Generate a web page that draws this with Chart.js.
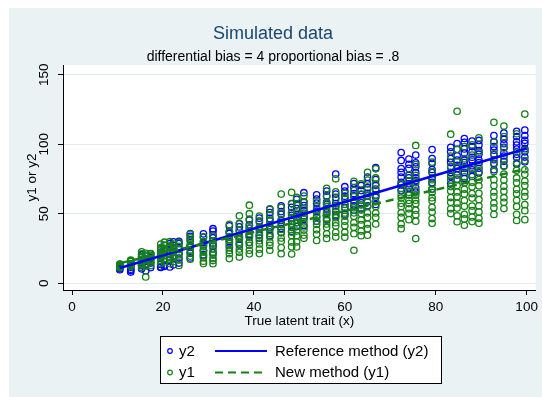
<!DOCTYPE html>
<html><head><meta charset="utf-8">
<script src="https://cdn.jsdelivr.net/npm/chart.js@4/dist/chart.umd.min.js"></script>
<style>html,body{margin:0;padding:0;background:#fff}canvas{display:block}</style>
</head><body>
<canvas id="c" width="542" height="397"></canvas>
<script>
// x positions of the measurement columns (true latent trait)
const xCols = [10.5,12.9,15.3,16.2,17.3,19.5,20.3,21.5,22.3,23.5,26,28.9,31,34.6,36.8,39,41.2,43.5,46,48.3,49.4,51,53.8,56,58,60,62,63.6,65,66.8,72.4,74.1,75.6,79.2,83.3,84.7,86.3,88,89.5,92.8,95,97.8,99.6];
// reference method values (y2), one list per column
const y2Vals = [
[9.8,10.6,11.9,12.4,13.7,11.2],[8.1,9.3,10.2,12.8,14.1,11.6],[10.4,12.7,13.3,16.2,18.9,20.4,15.1],[9.1,13.4,15.8,17.2,19.6],[11.3,14.6,17.9,18.4,21.2],
[11.4,11.9,13.6,18.7,22.5,25.3,20.1],[12.2,13.1,17.4,21.6,23.9,27.3],[11.8,16.7,18.9,23.4,26.2,28.7],[13.3,17.9,19.6,24.8,27.1,29.9],[14.6,18.2,21.7,25.4,28.6,30.2],
[18.3,21.6,25.9,27.2,31.4,33.8,35.7],[20.6,23.7,27.9,29.4,33.1,35.6],[21.9,26.8,28.4,32.7,34.9,37.6,39.3],[25.7,29.8,31.4,35.9,37.2,41.3],[27.6,31.8,33.4,37.9,40.6,42.8],
[29.4,33.9,35.2,39.7,42.1,45.6],[32.6,34.7,38.9,40.3,44.8,46.9],[34.4,38.8,40.6,44.9,46.7,50.9,53.2],[36.6,39.4,43.8,45.2,49.7,51.6,55.8],[37.5,42.7,44.6,48.9,50.8,54.7,57.4],
[40.8,43.6,47.9,49.3,53.8,56.6,60.4],[41.6,46.9,48.7,52.4,55.9,58.6,65.2],[44.7,47.6,51.9,53.4,57.8,60.6,63.7],[45.8,50.7,52.9,56.8,58.4,62.9,66.3],[48.6,51.7,55.9,57.4,61.8,64.2,78.6],
[49.7,54.6,56.9,60.8,62.7,66.4,69.5],[52.7,55.8,59.4,62.9,64.6,68.7,71.8],[53.6,57.9,59.7,63.8,66.7,70.4],[55.8,58.6,62.9,64.7,68.9,71.6,76.4],[56.7,61.9,63.6,67.8,70.4,74.7,83.2],
[66.6,70.9,72.7,76.4,79.8,82.6,88.4,94.1],[63.8,68.7,71.6,75.9,77.8,82.7,85.6,89.4],[65.7,68.6,73.9,75.8,79.6,83.8,86.7,92.3],[67.9,72.6,75.8,79.7,81.9,86.4,89.8,96.2],[71.6,76.8,79.7,83.6,86.9,89.7,94.6,97.8],
[74.8,77.9,82.6,84.9,88.7,91.8,96.4,100.6],[75.4,79.8,82.7,86.9,88.6,93.8,96.7,101.4,104.2],[76.9,81.7,84.6,88.8,90.7,94.6,98.4,102.3],[79.6,82.8,86.9,88.7,92.9,95.4,99.6,102.8],[81.7,86.4,88.9,92.6,95.8,98.4,101.9,106.3],
[84.6,87.8,91.6,93.9,97.8,100.4,103.7,108.2],[85.9,90.7,92.8,96.6,99.4,101.8,105.6,109.4],[87.4,90.8,94.6,96.9,100.7,102.9,106.3,110.2]
];
// new method values (y1), one list per column
const y1Vals = [
[11.2,12.1,12.8,13.3,12.6,11.7,13.9],[12.3,13.4,14.2,15.6,16.4,16.8,13.1],[11.4,13.2,15.6,16.9,19.3,21.2,22.7,14.4],[4.6,12.4,14.1,16.5,17.8,20.3,21.6],[12.8,15.3,16.4,17.6,19.2,20.1,21.4],
[14.3,16.6,19.2,20.4,21.8,24.1,25.6,28.3],[15.4,17.7,20.3,21.6,23.2,24.7,27.4,29.6],[14.2,17.3,18.6,21.4,22.8,25.3,26.9,30.1],[15.7,18.4,19.8,22.3,24.6,25.9,28.2],[12.9,16.7,20.4,21.8,24.3,26.6,29.3],
[17.4,19.6,22.3,23.8,26.4,27.6,30.3,32.8,35.4],[14.2,15.9,18.4,19.7,22.5,23.8,26.4,27.6,30.2,33.4],[14.1,16.4,17.8,20.3,22.6,24.8,28.3,30.6,34.2],[17.8,21.3,23.6,27.2,28.7,31.4,33.6,37.3,42.4],[18.9,22.4,24.7,28.3,29.6,32.4,34.7,38.2,43.1,48.6],
[21.2,23.8,27.4,29.6,33.2,35.7,39.4,41.6,46.2,50.1,56.2],[21.4,24.6,28.3,30.7,34.2,36.6,40.3,43.7,48.4],[23.8,27.3,29.6,33.4,35.8,39.3,41.7,45.4,49.2,53.6],[21.3,25.7,30.2,32.6,36.3,38.8,42.4,45.7,50.3,54.6,64.2],[21.1,26.3,29.7,34.4,36.8,40.2,42.6,47.3,50.7,57.2,65.4],
[26.2,29.8,34.3,37.6,41.2,43.7,47.4,50.6,56.3,61.8],[32.4,34.7,38.3,40.6,44.2,46.8,50.4,53.7,58.2,62.8],[30.8,35.3,38.6,42.4,44.7,48.3,50.8,55.2,59.4],[32.3,35.6,40.2,42.7,45.3,46.6,49.4,51.7,55.3,57.6,62.4,68.3],[33.4,36.7,41.3,43.6,47.2,49.6,53.4,55.7,60.2,65.8,75.2],
[33.2,36.8,41.4,44.7,48.3,50.6,54.2,56.8,61.3,64.7],[23.8,35.7,40.3,43.6,48.2,50.7,54.3,57.6,62.4,66.8,73.4],[34.3,37.6,42.3,45.6,50.2,52.7,56.4,59.7,64.2,71.6],[34.6,39.3,42.6,47.4,50.7,55.3,58.6,63.4,67.7,74.3,79.8],[42.7,47.4,50.6,55.3,58.7,63.2,66.6,71.3,75.8,82.4],
[39.3,42.6,47.4,50.7,55.2,57.6,61.3,63.7,68.4,71.6],[45.8,50.3,53.6,57.4,59.7,63.3,65.6,70.4,73.7,78.3],[32.2,44.7,49.4,52.6,57.3,59.8,63.4,66.6,72.3,77.6,85.4,99.2],[43.2,46.6,51.3,54.7,59.4,61.6,65.3,67.7,71.4,74.6,80.3,87.2],[50.2,53.6,58.3,61.7,66.4,69.6,74.3,77.6,84.2,91.6,107.3],
[44.3,48.6,54.2,57.6,62.3,65.7,70.4,74.6,80.3,87.6,96.4,123.8],[41.8,46.3,49.7,55.4,59.6,64.3,67.7,72.4,76.6,83.3,89.7,98.4],[44.4,47.7,52.3,55.6,61.3,64.6,69.4,72.7,78.3,83.6,92.2,99.7],[43.3,46.8,51.4,55.7,60.3,64.8,70.2,74.6,80.3,85.6,94.3,104.7],[49.6,54.3,57.8,62.4,65.7,70.3,74.6,80.4,85.7,93.2,101.6,115.8],
[53.8,58.3,61.6,66.2,69.8,74.3,78.6,84.2,89.7,97.3,105.6,113.2],[45.2,49.6,55.3,59.7,64.4,67.6,72.3,75.8,81.4,86.7,94.3,107.6],[45.8,52.3,56.6,62.4,65.7,70.3,73.6,78.4,81.7,88.3,95.6,121.8]
];
// fitted lines (end points)
const fitX = [10.5, 100];
const fitY2 = [11, 97];
const fitY1 = [14.5, 82.5];
// tick labels
const xTicks = [0,20,40,60,80,100];
const yTicks = [0,50,100,150];
const yTitle = 'y1 or y2';

const BLUE = 'rgb(0,0,255)';
const GREEN = 'rgb(22,128,22)';
const FONT = '"Liberation Sans", Arial, Helvetica, sans-serif';

function pts(vals){ const out=[]; xCols.forEach((x,i)=>vals[i].forEach(v=>out.push({x:x,y:v}))); return out; }
function fit(ys){ return fitX.map((x,i)=>({x:x,y:ys[i]})); }

const bgPlugin = {
  id:'bg',
  beforeDraw(chart){
    const c = chart.ctx, a = chart.chartArea;
    c.save();
    c.fillStyle='#ffffff'; c.fillRect(0,0,chart.width,chart.height);
    c.fillStyle='#eaf2f3'; c.fillRect(9,8,chart.width-9,chart.height-8);
    c.fillStyle='#ffffff'; c.fillRect(a.left,a.top,a.right-a.left,a.bottom-a.top);
    c.restore();
  },
  afterDraw(chart){
    const c = chart.ctx, a = chart.chartArea;
    c.save();
    c.translate(32, (a.top+a.bottom)/2);
    c.rotate(-Math.PI/2);
    c.font = '13.5px ' + FONT; c.fillStyle='#000'; c.textAlign='center'; c.textBaseline='middle';
    c.fillText(yTitle, 0, 0);
    c.restore();
  }
};

const legendPlugin = {
  id:'stataLegend',
  afterDraw(chart){
    const c = chart.ctx, ds = chart.data.datasets;
    c.save();
    c.fillStyle='#fff'; c.fillRect(160.5,336.5,281,47);
    c.strokeStyle='#000'; c.lineWidth=1; c.strokeRect(160.5,336.5,281,47);
    const rows = [[0,2,351],[1,3,372.5]];
    c.font = '15px ' + FONT; c.textBaseline='middle'; c.textAlign='left';
    rows.forEach(([m,l,y])=>{
      c.beginPath(); c.arc(170,y,2.3,0,Math.PI*2);
      c.strokeStyle=ds[m].borderColor; c.lineWidth=1.2; c.setLineDash([]); c.stroke();
      c.fillStyle='#000'; c.fillText(ds[m].label,179,y+0.5);
      c.beginPath(); c.moveTo(215,y); c.lineTo(267,y);
      c.strokeStyle=ds[l].borderColor; c.lineWidth=2; c.setLineDash(ds[l].borderDash||[]); c.stroke();
      c.setLineDash([]);
      c.fillStyle='#000'; c.fillText(ds[l].label,275,y+0.5);
    });
    c.restore();
  }
};

new Chart(document.getElementById('c'), {
  type:'scatter',
  data:{datasets:[
    {label:'y2', data:pts(y2Vals), borderColor:BLUE, backgroundColor:'rgba(0,0,0,0)', pointRadius:3.2, pointBorderWidth:1.3, order:4},
    {label:'y1', data:pts(y1Vals), borderColor:GREEN, backgroundColor:'rgba(0,0,0,0)', pointRadius:3.2, pointBorderWidth:1.3, order:3},
    {label:'Reference method (y2)', data:fit(fitY2), showLine:true, borderColor:BLUE, borderWidth:2.5, pointRadius:0, order:2},
    {label:'New method (y1)', data:fit(fitY1), showLine:true, borderColor:GREEN, borderWidth:2.5, borderDash:[8,5], pointRadius:0, order:1}
  ]},
  options:{
    responsive:false, animation:false, devicePixelRatio:1,
    layout:{padding:{left:9,right:5,top:8,bottom:68}},
    plugins:{
      legend:{display:false}, tooltip:{enabled:false},
      title:{display:true, text:'Simulated data', color:'#1a476f', font:{family:FONT,size:18,weight:'normal'}, padding:{top:15.2,bottom:0}},
      subtitle:{display:true, text:'differential bias = 4 proportional bias = .8', color:'#000', font:{family:FONT,size:14,weight:'normal'}, padding:{top:3.5,bottom:0}}
    },
    scales:{
      x:{type:'linear', min:-2, max:102,
        afterBuildTicks:s=>{ s.ticks = xTicks.map(v=>({value:v})); },
        afterFit:s=>{ s.height = 39; },
        grid:{drawOnChartArea:false, tickLength:5, tickColor:'#000', tickWidth:1},
        border:{color:'#000', width:1},
        ticks:{color:'#000', font:{family:FONT,size:13.5}, padding:4, maxRotation:0, autoSkip:false},
        title:{display:true, text:'True latent trait (x)', color:'#000', font:{family:FONT,size:13.5}, padding:{top:0,bottom:0}}
      },
      y:{type:'linear', min:-4.8, max:157,
        afterBuildTicks:s=>{ s.ticks = yTicks.map(v=>({value:v})); },
        afterFit:s=>{ s.width = 54; },
        grid:{color:'#e3ecee', lineWidth:1, tickLength:5, tickColor:'#000', tickWidth:1},
        border:{color:'#000', width:1},
        ticks:{color:'#000', font:{family:FONT,size:13.5}, padding:2.5, minRotation:90, maxRotation:90, crossAlign:'center', autoSkip:false},
        title:{display:false}
      }
    }
  },
  plugins:[bgPlugin, legendPlugin]
});
</script>
</body></html>
